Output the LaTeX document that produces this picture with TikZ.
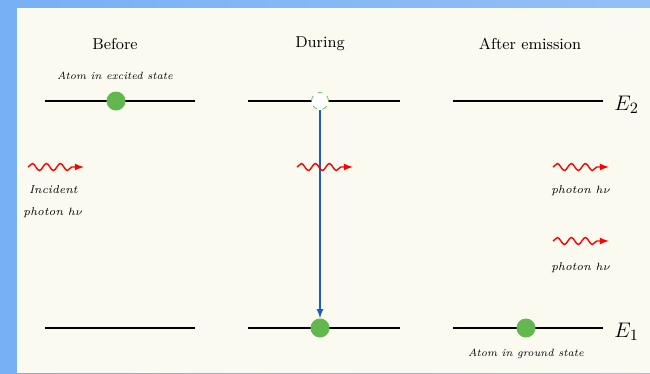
\documentclass[tikz,border=0pt]{standalone}
\usepackage{tikz}
\usetikzlibrary{arrows,backgrounds,calc,decorations.pathmorphing,positioning}
\definecolor{skyblue}{RGB}{120,176,245}
\definecolor{panel}{RGB}{251,250,240}
\definecolor{atomgreen}{RGB}{98,184,78}
\definecolor{jumpblue}{RGB}{30,90,200}
\tikzset{
  level/.style={line width=1.6pt,black},
  atom/.style={circle,fill=atomgreen,minimum size=19\pxu,inner sep=0pt},
  hole/.style={circle,draw=atomgreen,dashed,fill=white,minimum size=17\pxu,inner sep=0pt},
  photon/.style={red,thick,decorate,decoration={snake,amplitude=3.5\pxu,segment length=14\pxu,post length=10\pxu},-latex},
  tiny/.style={font=\fontsize{6}{7}\selectfont\itshape,align=center},
  plabel/.style={font=\fontsize{6.5}{12.5}\selectfont\itshape,align=center}
}
\newcommand{\pxu}{*0.02cm}
\begin{document}
\begin{tikzpicture}[x=0.02cm,y=-0.02cm]
\useasboundingbox (0,0) rectangle (650,373);
\shade[left color=skyblue,right color=skyblue!80!white] (0,0) rectangle (650,373);
\fill[panel] (17,8) rectangle (650,373);
% titles
\node (t1) at (115,44) {\fontsize{9}{10}\selectfont Before};
\node (t2) at (320,44) {\fontsize{9}{10}\selectfont During};
\node (t3) at (530,44) {\fontsize{9}{10}\selectfont After emission};
% energy levels
\draw[level] (45,101) coordinate(a2) -- (195,101) coordinate(b2);
\draw[level] (248,101) coordinate(c2) -- (400,101) coordinate(d2);
\draw[level] (453,101) coordinate(e2) -- (603,101) coordinate(f2);
\draw[level] (45,328) coordinate(a1) -- (195,328) coordinate(b1);
\draw[level] (248,328) coordinate(c1) -- (400,328) coordinate(d1);
\draw[level] (453,328) coordinate(e1) -- (603,328) coordinate(f1);
\node[right=3pt of f2,yshift=-2pt] (E2) {\fontsize{13}{14}\selectfont $E_2$};
\node[right=3pt of f1,yshift=-2pt] (E1) {\fontsize{13}{14}\selectfont $E_1$};
% atoms
\node[atom] (x1) at (116,101) {};
\node[tiny] (l1) at (115,76) {Atom in excited state};
\node[hole] (x2) at (320,101) {};
\node[atom] (g2) at (320,328) {};
\node[atom] (g3) at (526,328) {};
\node[tiny] (l3) at (526,354) {Atom in ground state};
\draw[jumpblue,thick,-latex] (x2) -- (g2);
% photons
\coordinate (p1) at (28,167); \coordinate (q1) at (84,167);
\coordinate (p2) at (297,167); \coordinate (q2) at (353,167);
\coordinate (p3) at (553,167); \coordinate (q3) at (609,167);
\coordinate (p4) at (553,241); \coordinate (q4) at (609,241);
\draw[photon] (p1) -- (q1);
\draw[photon] (p2) -- (q2);
\draw[photon] (p3) -- (q3);
\draw[photon] (p4) -- (q4);
\node[plabel,below=7pt of $(p1)!0.45!(q1)$] (h1) {Incident\\photon $h\nu$};
\node[plabel,below=7pt of $(p3)!0.5!(q3)$] (h3) {photon $h\nu$};
\node[plabel,below=9pt of $(p4)!0.5!(q4)$] (h4) {photon $h\nu$};
\end{tikzpicture}
\end{document}
